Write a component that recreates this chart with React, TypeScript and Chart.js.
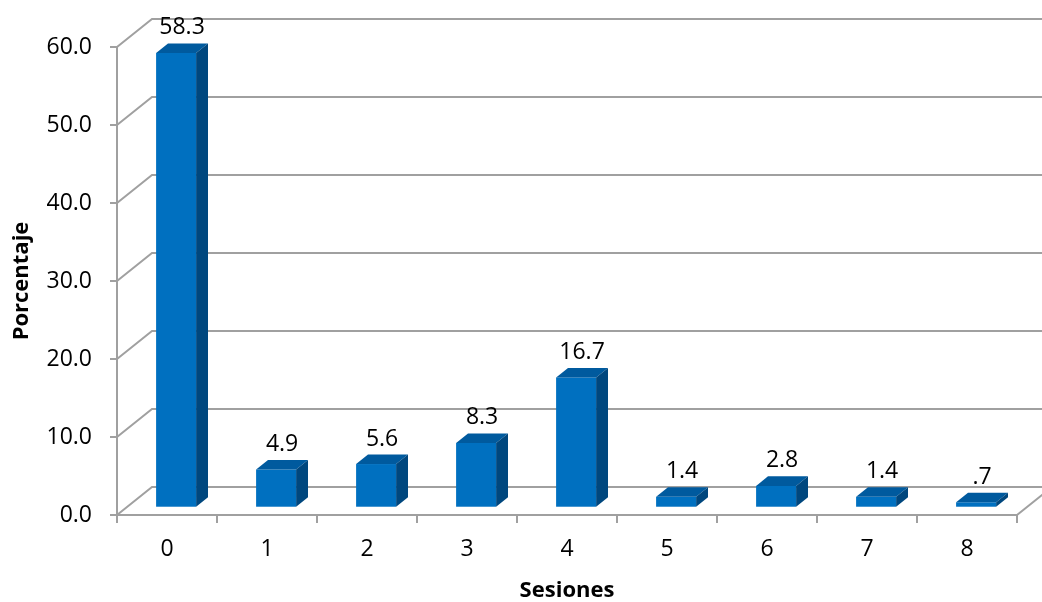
import React, { useEffect, useRef } from 'react';
import { Chart, registerables } from 'chart.js';

Chart.register(...registerables);

// Sessions attended and the share of participants (%) for each count
const sessions = ['0', '1', '2', '3', '4', '5', '6', '7', '8'];
const percentages = [58.3, 4.9, 5.6, 8.3, 16.7, 1.4, 2.8, 1.4, 0.7];
const yTickStep = 10;
const yMax = 60;

const FONT = "'Open Sans', 'Noto Sans', sans-serif";
const GRID = '#a0a0a0';
const FACE = '#0070c0';
const TOP = '#005a9e';
const SIDE = '#00477e';

// Screen offset of the back wall relative to the front plane
const DEPTH_X = 35;
const DEPTH_Y = -28;
// Where each column sits between the front plane (0) and the back wall (1)
const BAR_FRONT = 0.26;
const BAR_BACK = 0.6;

const fmt = (v: number) => v.toFixed(1).replace(/^0\./, '.');

const box3d = {
  id: 'box3d',
  beforeDatasetsDraw(chart: any) {
    const { ctx, chartArea: a, scales } = chart;
    const y = scales.y;
    ctx.save();
    ctx.strokeStyle = GRID;
    ctx.lineWidth = 2;
    // side wall diagonals and back wall gridlines
    y.ticks.forEach((t: any) => {
      const py = y.getPixelForValue(t.value);
      ctx.beginPath();
      ctx.moveTo(a.left, py);
      ctx.lineTo(a.left + DEPTH_X, py + DEPTH_Y);
      ctx.lineTo(a.right + DEPTH_X, py + DEPTH_Y);
      ctx.stroke();
    });
    // right edge of the floor
    ctx.beginPath();
    ctx.moveTo(a.right, a.bottom);
    ctx.lineTo(a.right + DEPTH_X, a.bottom + DEPTH_Y);
    ctx.stroke();
    ctx.restore();
  },
  afterDatasetsDraw(chart: any) {
    const { ctx } = chart;
    const meta = chart.getDatasetMeta(0);
    const values = chart.data.datasets[0].data as number[];
    const fx = DEPTH_X * BAR_FRONT;
    const fy = DEPTH_Y * BAR_FRONT;
    const ddx = DEPTH_X * (BAR_BACK - BAR_FRONT);
    const ddy = DEPTH_Y * (BAR_BACK - BAR_FRONT);
    ctx.save();
    meta.data.forEach((bar: any, i: number) => {
      const { x, y, base, width } = bar.getProps(['x', 'y', 'base', 'width'], true);
      const xl = x - width / 2 + fx;
      const xr = x + width / 2 + fx;
      const yt = y + fy;
      const yb = base + fy;

      ctx.fillStyle = FACE;
      ctx.fillRect(xl, yt, xr - xl, yb - yt);

      ctx.fillStyle = TOP;
      ctx.beginPath();
      ctx.moveTo(xl, yt);
      ctx.lineTo(xr, yt);
      ctx.lineTo(xr + ddx, yt + ddy);
      ctx.lineTo(xl + ddx, yt + ddy);
      ctx.closePath();
      ctx.fill();

      ctx.fillStyle = SIDE;
      ctx.beginPath();
      ctx.moveTo(xr, yt);
      ctx.lineTo(xr + ddx, yt + ddy);
      ctx.lineTo(xr + ddx, yb + ddy);
      ctx.lineTo(xr, yb);
      ctx.closePath();
      ctx.fill();

      ctx.fillStyle = '#000';
      ctx.font = `23px ${FONT}`;
      ctx.textAlign = 'center';
      ctx.textBaseline = 'alphabetic';
      ctx.fillText(fmt(values[i]), (xl + xr + ddx) / 2, yt + ddy - 9);
    });
    ctx.restore();
  },
};

export default function App() {
  const ref = useRef<HTMLCanvasElement>(null);

  useEffect(() => {
    document.body.style.margin = '0';
    const canvas = ref.current;
    if (!canvas) return;
    const chart = new Chart(canvas, {
      type: 'bar',
      data: {
        labels: sessions,
        datasets: [
          {
            data: percentages,
            backgroundColor: 'rgba(0,0,0,0)',
            borderWidth: 0,
            barPercentage: 0.4,
            categoryPercentage: 1,
          },
        ],
      },
      options: {
        responsive: false,
        animation: false,
        layout: { padding: { top: 47, right: 25, left: 0, bottom: 0 } },
        plugins: { legend: { display: false }, tooltip: { enabled: false } },
        scales: {
          x: {
            type: 'category',
            offset: true,
            grid: {
              display: true,
              drawOnChartArea: false,
              drawTicks: true,
              tickLength: 8,
              color: GRID,
              lineWidth: 2,
              offset: true,
            },
            border: { display: true, color: GRID, width: 2 },
            ticks: { color: '#000', font: { family: FONT, size: 23 }, padding: 13 },
            title: {
              display: true,
              text: 'Sesiones',
              color: '#000',
              font: { family: FONT, size: 22, weight: 'bold', lineHeight: 1 },
              padding: 0,
            },
            afterFit(s: any) {
              s.height = 87;
            },
          },
          y: {
            min: 0,
            max: yMax,
            grid: {
              display: true,
              drawOnChartArea: false,
              drawTicks: true,
              tickLength: 7,
              color: GRID,
              lineWidth: 2,
            },
            border: { display: true, color: GRID, width: 2 },
            ticks: {
              stepSize: yTickStep,
              color: '#000',
              font: { family: FONT, size: 23 },
              padding: 18,
              callback: (v: any) => Number(v).toFixed(1),
            },
            title: {
              display: true,
              text: 'Porcentaje',
              color: '#000',
              font: { family: FONT, size: 22, weight: 'bold', lineHeight: 1 },
              padding: { top: 11, bottom: 0 },
            },
            afterFit(s: any) {
              s.width = 117;
            },
          },
        },
      },
      plugins: [box3d],
    } as any);
    return () => chart.destroy();
  }, []);

  return (
    <div style={{ width: 1042, height: 602 }}>
      <canvas ref={ref} width={1042} height={602} />
    </div>
  );
}
